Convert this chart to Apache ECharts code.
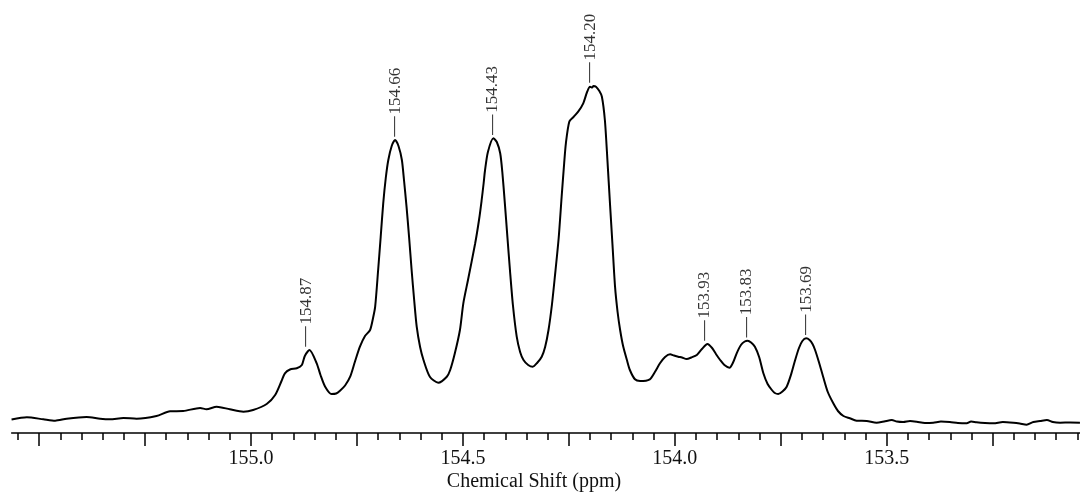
<!DOCTYPE html>
<html>
<head>
<meta charset="utf-8">
<script src="https://cdn.jsdelivr.net/npm/echarts@6/dist/echarts.min.js"></script>
<style>
  html, body { margin: 0; padding: 0; background: #fff; }
  #chart { width: 1080px; height: 492px; }
</style>
</head>
<body>
<div id="chart"></div>
<script>
// 13C NMR spectrum, chemical shift (ppm) vs. intensity (arbitrary units)
const shiftPpm = [
  155.565,155.529,155.490,155.462,155.435,155.388,155.356,155.333,155.301,155.270,
  155.223,155.191,155.160,155.120,155.105,155.081,155.050,155.018,154.995,154.963,
  154.943,154.928,154.920,154.908,154.892,154.880,154.873,154.862,154.845,154.836,
  154.825,154.810,154.799,154.790,154.778,154.766,154.755,154.743,154.731,154.719,
  154.712,154.707,154.700,154.694,154.688,154.682,154.676,154.668,154.660,154.652,
  154.644,154.639,154.633,154.627,154.621,154.615,154.609,154.601,154.593,154.578,
  154.558,154.538,154.530,154.519,154.507,154.499,154.488,154.471,154.462,154.456,
  154.451,154.448,154.441,154.428,154.420,154.412,154.407,154.401,154.395,154.389,
  154.382,154.373,154.365,154.357,154.346,154.335,154.325,154.314,154.306,154.298,
  154.290,154.283,154.274,154.267,154.261,154.257,154.249,154.239,154.228,154.216,
  154.207,154.200,154.195,154.192,154.186,154.178,154.172,154.165,154.159,154.153,
  154.147,154.141,154.135,154.129,154.122,154.113,154.106,154.094,154.082,154.059,
  154.047,154.035,154.023,154.011,154.002,153.992,153.983,153.972,153.961,153.948,
  153.936,153.923,153.912,153.903,153.893,153.883,153.871,153.862,153.854,153.844,
  153.835,153.828,153.820,153.811,153.801,153.791,153.781,153.771,153.764,153.756,
  153.746,153.736,153.726,153.716,153.707,153.699,153.690,153.682,153.675,153.669,
  153.660,153.650,153.639,153.626,153.615,153.602,153.587,153.571,153.547,153.524,
  153.506,153.488,153.476,153.461,153.445,153.429,153.410,153.390,153.372,153.351,
  153.332,153.311,153.301,153.288,153.268,153.248,153.226,153.201,153.186,153.170,
  153.154,153.138,153.122,153.108,153.091,153.067,153.044
];

const intensity = [
  13.5,15.7,13.7,12.3,14.3,16,14.3,13.7,15,14.3,
  17,21.7,22,25,23.7,26.3,23.7,21.3,23,29,
  38,52,59.7,63.5,64.7,68,77,83,69.7,58,
  46.3,39,39.5,42.3,47.5,56.3,71,86.3,97,103,
  115,126.3,163,196,229.7,255,273,287,293,287,
  273,253,226.3,196,163,133,106.3,86,73,56.3,
  50.3,56.3,63,79.7,103,129.7,153,189.7,213,232,
  250,262,281,294.7,291,279.7,261,229.7,196,163,
  128,96.3,81,73,68,66.3,70,76.3,86,103,
  128,156.3,195,236.3,270,289.7,311.3,316,321.3,329.7,
  341,346.3,345.5,347,346.3,342,336.3,313,273,229.7,
  188,146.3,121,103,87,73,63,53.7,52,53.7,
  61,69.7,76,78.7,77.5,76.3,75.5,74,75.5,78,
  84,89,85,79,73,68,65.3,71,79.7,88,
  91.5,92.3,90.5,86.3,76,59.7,49,43,40,39,
  41.5,46.3,58,73,85,92,94.7,93,89,83,
  71,56.3,41,29.7,22,17,14.7,12.3,12,10.3,
  11.5,13,11.5,11,12,11.3,10,10.3,11.5,11,
  10,9.7,11.5,10.7,10,9.7,11,10.3,9.5,8.3,
  11,12,13,11,10.3,10.5,10.3
];

// picked peaks: position (ppm) and peak height
const peakPpm = [154.87, 154.66, 154.43, 154.20, 153.93, 153.83, 153.69];
const peakHeight = [83, 293, 294.7, 347, 89, 92.3, 94.7];

const axisTitle = 'Chemical Shift (ppm)';

const spectrum = shiftPpm.map((p, i) => [p, intensity[i]]);
const peaks = peakPpm.map((p, i) => [p, peakHeight[i]]);

const serif = '"Liberation Serif", "Times New Roman", serif';
const chart = echarts.init(document.getElementById('chart'), null, { renderer: 'canvas' });

chart.setOption({
  animation: false,
  backgroundColor: '#ffffff',
  grid: [
    // spectrum extent: carries the axis line
    { left: 11.7, right: 0, top: 0, bottom: 59, outerBoundsMode: 'none', containLabel: false },
    // wider frame aligned to round ppm values: ticks, labels and the traces
    { left: -66.85, right: -18.6, top: 0, bottom: 59, outerBoundsMode: 'none', containLabel: false }
  ],
  xAxis: [
    {
      gridIndex: 0, type: 'value', inverse: true,
      min: 153.0439, max: 155.5647,
      axisLine: { show: true, lineStyle: { color: '#000', width: 1.6 } },
      axisTick: { show: false }, axisLabel: { show: false }, splitLine: { show: false }
    },
    {
      gridIndex: 1, type: 'value', inverse: true,
      min: 153.0, max: 155.75, interval: 0.25,
      axisLine: { show: false },
      axisTick: { show: true, length: 13, lineStyle: { color: '#000', width: 1.5 } },
      minorTick: { show: true, splitNumber: 5, length: 7, lineStyle: { color: '#000', width: 1.5 } },
      splitLine: { show: false },
      axisLabel: {
        show: true, margin: 16, color: '#111',
        fontFamily: serif, fontSize: 20,
        formatter: function (v) {
          const twice = v * 2;
          if (Math.abs(twice - Math.round(twice)) < 1e-6 && v >= 153.49 && v <= 155.01) {
            return v.toFixed(1);
          }
          return '';
        }
      }
    }
  ],
  yAxis: [
    { gridIndex: 0, type: 'value', min: 0, max: 433, show: false },
    { gridIndex: 1, type: 'value', min: 0, max: 433, show: false }
  ],
  graphic: [{
    type: 'text', x: 534, y: 482,
    style: {
      text: axisTitle, fill: '#111',
      font: '20px ' + serif,
      align: 'center', verticalAlign: 'middle'
    }
  }],
  series: [
    {
      type: 'line', xAxisIndex: 1, yAxisIndex: 1,
      data: spectrum, showSymbol: false, smooth: 0.25,
      lineStyle: { color: '#000', width: 2 },
      clip: false
    },
    {
      type: 'scatter', xAxisIndex: 1, yAxisIndex: 1,
      data: peaks, symbolSize: 1,
      itemStyle: { color: 'rgba(0,0,0,0)' },
      label: {
        show: true, position: 'top', distance: 3,
        rotate: 90, align: 'left', verticalAlign: 'middle',
        fontFamily: serif, fontSize: 17, color: '#000',
        formatter: function (p) { return '{d|\u2014}{t|' + p.value[0].toFixed(2) + '}'; },
        rich: {
          d: { fontFamily: serif, fontSize: 20, color: '#000', padding: [0, 2, 0, 0] },
          t: { fontFamily: serif, fontSize: 17, color: '#000' }
        }
      }
    }
  ]
});
</script>
</body>
</html>
